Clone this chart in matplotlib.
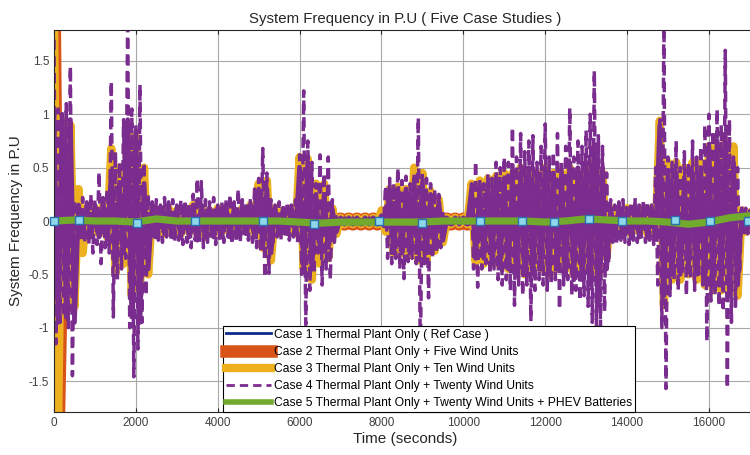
import numpy as np
import matplotlib
matplotlib.use("Agg")
import matplotlib.pyplot as plt
from matplotlib.lines import Line2D

plt.rcParams['font.family'] = ['Liberation Sans', 'DejaVu Sans']

# ---- data ----
# case 4 (twenty wind units): local max / min in every 100 s bin, t = 0 .. 17000
c4_step = 100
c4_hi = [
    1.70, 1.05, 1.00, 1.10, 1.45, 0.20, 0.15, 0.22, 0.18, 0.25,
    0.20, 0.46, 0.22, 0.30, 1.31, 0.65, 0.55, 0.95, 1.90, 1.05,
    0.90, 1.28, 0.55, 0.25, 0.18, 0.20, 0.15, 0.22, 0.18, 0.20,
    0.15, 0.20, 0.18, 0.15, 0.25, 0.40, 0.37, 0.20, 0.18, 0.22,
    0.15, 0.18, 0.20, 0.25, 0.18, 0.30, 0.20, 0.18, 0.22, 0.30,
    0.40, 0.68, 0.45, 0.20, 0.15, 0.18, 0.15, 0.18, 0.15, 0.20,
    0.62, 1.22, 0.75, 0.55, 0.35, 0.62, 0.45, 0.60, 0.20, 0.04,
    0.03, 0.03, 0.03, 0.03, 0.03, 0.03, 0.03, 0.03, 0.03, 0.03,
    0.05, 0.33, 0.40, 0.35, 0.50, 0.38, 0.42, 0.35, 0.45, 0.97,
    0.45, 0.40, 0.35, 0.30, 0.25, 0.10, 0.03, 0.03, 0.03, 0.03,
    0.03, 0.05, 0.35, 0.56, 0.40, 0.35, 0.45, 0.40, 0.55, 0.50,
    0.60, 0.55, 0.88, 0.60, 0.82, 0.65, 0.75, 0.80, 0.55, 0.70,
    0.91, 0.60, 0.65, 0.82, 0.55, 0.70, 1.06, 0.60, 0.75, 0.70,
    0.85, 1.00, 1.41, 0.80, 0.70, 0.45, 0.20, 0.15, 0.18, 0.20,
    0.15, 0.18, 0.22, 0.15, 0.20, 0.18, 0.15, 0.50, 0.95, 1.90,
    0.60, 0.55, 0.75, 0.50, 0.65, 0.55, 0.75, 0.60, 0.70, 0.90,
    1.00, 0.85, 1.05, 0.90, 1.60, 0.95, 0.60, 0.50, 0.15, 0.12,
    0.10]
c4_lo = [
    -1.15, -0.95, -0.90, -1.00, -1.45, -0.35, -0.18, -0.20, -0.22, -0.30,
    -0.22, -0.40, -0.25, -0.30, -0.90, -0.55, -0.45, -0.35, -1.00, -1.46,
    -1.20, -0.95, -0.70, -0.20, -0.15, -0.18, -0.20, -0.15, -0.18, -0.20,
    -0.18, -0.22, -0.20, -0.25, -0.18, -0.22, -0.25, -0.20, -0.18, -0.22,
    -0.18, -0.20, -0.15, -0.22, -0.18, -0.20, -0.15, -0.18, -0.20, -0.25,
    -0.30, -0.53, -0.49, -0.20, -0.15, -0.18, -0.15, -0.18, -0.15, -0.20,
    -0.50, -0.97, -0.65, -0.50, -0.30, -0.60, -0.45, -0.55, -0.20, -0.04,
    -0.03, -0.03, -0.03, -0.03, -0.03, -0.03, -0.03, -0.03, -0.03, -0.03,
    -0.05, -0.35, -0.40, -0.35, -0.45, -0.54, -0.38, -0.35, -0.40, -1.30,
    -0.40, -0.72, -0.35, -0.30, -0.25, -0.10, -0.03, -0.03, -0.03, -0.03,
    -0.03, -0.05, -0.45, -0.62, -0.45, -0.40, -0.50, -0.45, -0.55, -0.60,
    -0.55, -0.65, -0.79, -0.60, -0.70, -0.60, -0.94, -0.65, -0.55, -0.60,
    -0.65, -0.60, -0.55, -0.83, -0.60, -0.55, -0.70, -0.65, -0.75, -0.70,
    -0.80, -0.95, -1.00, -1.00, -0.85, -0.40, -0.20, -0.22, -0.18, -0.20,
    -0.22, -0.18, -0.20, -0.15, -0.20, -0.18, -0.22, -0.60, -1.00, -1.57,
    -0.70, -0.55, -0.65, -0.50, -0.70, -0.55, -0.65, -0.50, -0.60, -1.13,
    -0.75, -0.70, -0.80, -0.85, -1.57, -0.95, -0.80, -0.50, -0.15, -0.12,
    -0.10]

# case 4 dense core (where the trace is solid): max / min per 200 s bin
core_step = 200
core_hi = [
    1.00, 1.00, 0.95, 0.15, 0.15,
    0.15, 0.18, 0.45, 0.35, 0.95,
    0.85, 0.35, 0.15, 0.12, 0.15,
    0.12, 0.15, 0.15, 0.15, 0.12,
    0.12, 0.15, 0.12, 0.15, 0.15,
    0.30, 0.30, 0.12, 0.12, 0.12,
    0.50, 0.55, 0.25, 0.25, 0.10,
    0.03, 0.03, 0.03, 0.03, 0.03,
    0.05, 0.30, 0.30, 0.30, 0.35,
    0.35, 0.25, 0.18, 0.03, 0.03,
    0.03, 0.30, 0.30, 0.35, 0.40,
    0.40, 0.45, 0.45, 0.50, 0.45,
    0.50, 0.45, 0.45, 0.55, 0.50,
    0.55, 0.70, 0.50, 0.12, 0.12,
    0.12, 0.12, 0.12, 0.12, 0.90,
    0.45, 0.45, 0.40, 0.45, 0.50,
    0.70, 0.75, 0.80, 0.55, 0.10,
    0.08]
core_lo = [
    -0.95, -0.90, -0.95, -0.15, -0.15,
    -0.15, -0.18, -0.40, -0.30, -0.90,
    -0.95, -0.45, -0.15, -0.12, -0.15,
    -0.15, -0.15, -0.18, -0.15, -0.15,
    -0.15, -0.15, -0.15, -0.12, -0.15,
    -0.25, -0.30, -0.12, -0.12, -0.12,
    -0.45, -0.45, -0.25, -0.25, -0.10,
    -0.03, -0.03, -0.03, -0.03, -0.03,
    -0.05, -0.30, -0.30, -0.30, -0.30,
    -0.30, -0.25, -0.18, -0.03, -0.03,
    -0.03, -0.35, -0.35, -0.40, -0.40,
    -0.45, -0.45, -0.50, -0.50, -0.45,
    -0.50, -0.45, -0.50, -0.55, -0.55,
    -0.60, -0.80, -0.45, -0.15, -0.15,
    -0.15, -0.15, -0.15, -0.15, -0.70,
    -0.50, -0.50, -0.45, -0.50, -0.55,
    -0.60, -0.60, -0.65, -0.60, -0.10,
    -0.08]

# case 3 (ten wind units): max / min per 200 s bin
c3_step = 200
c3_hi = [
    1.90, 0.95, 0.90, 0.30, 0.12,
    0.12, 0.15, 0.68, 0.50, 0.85,
    0.80, 0.50, 0.12, 0.10, 0.12,
    0.10, 0.12, 0.15, 0.12, 0.10,
    0.12, 0.12, 0.10, 0.12, 0.15,
    0.35, 0.38, 0.12, 0.10, 0.12,
    0.60, 0.58, 0.35, 0.35, 0.12,
    0.03, 0.03, 0.03, 0.03, 0.03,
    0.10, 0.30, 0.32, 0.30, 0.50,
    0.45, 0.28, 0.20, 0.03, 0.03,
    0.03, 0.35, 0.38, 0.40, 0.42,
    0.45, 0.45, 0.50, 0.45, 0.45,
    0.50, 0.45, 0.45, 0.50, 0.45,
    0.50, 0.55, 0.45, 0.12, 0.10,
    0.12, 0.10, 0.12, 0.12, 0.94,
    0.55, 0.55, 0.50, 0.55, 0.55,
    0.70, 0.70, 0.75, 0.70, 0.10,
    0.08]
c3_lo = [
    -1.90, -0.85, -0.80, -0.30, -0.12,
    -0.12, -0.15, -0.49, -0.40, -0.70,
    -0.65, -0.50, -0.12, -0.12, -0.10,
    -0.12, -0.10, -0.12, -0.15, -0.12,
    -0.10, -0.12, -0.12, -0.10, -0.12,
    -0.25, -0.37, -0.12, -0.10, -0.12,
    -0.45, -0.55, -0.40, -0.35, -0.12,
    -0.03, -0.03, -0.03, -0.03, -0.03,
    -0.10, -0.30, -0.30, -0.32, -0.37,
    -0.37, -0.28, -0.20, -0.03, -0.03,
    -0.03, -0.38, -0.40, -0.40, -0.42,
    -0.45, -0.45, -0.50, -0.45, -0.45,
    -0.50, -0.45, -0.45, -0.50, -0.45,
    -0.45, -0.50, -0.34, -0.12, -0.12,
    -0.12, -0.10, -0.12, -0.12, -0.79,
    -0.55, -0.55, -0.50, -0.55, -0.60,
    -0.65, -0.65, -0.65, -0.70, -0.10,
    -0.08]

# case 2 (five wind units): max / min per 200 s bin
c2_step = 200
c2_hi = [1.90] + [0.015] * 85
c2_lo = [-1.90] + [-0.025] * 85

# case 5 (PHEV batteries): value every 500 s
c5_step = 500
c5_val = [0.00, 0.01, 0.00, 0.00, -0.01, 0.02,
          0.00, 0.00, 0.00, 0.00, 0.00, 0.00,
          -0.01, -0.02, -0.01, -0.01, -0.01, -0.01,
          -0.01, 0.00, 0.00, 0.00, 0.00, 0.00,
          -0.01, 0.00, 0.02, 0.01, 0.00, 0.00,
          -0.01, -0.03, -0.01, 0.03, 0.05]

# square markers on the reference trace
mk_t = [0, 610, 2030, 3450, 5110, 6350, 7940, 8990, 10410, 11440,
        12220, 13070, 13880, 15180, 16030, 16960]
mk_v = [0.00, 0.01, -0.02, 0.00, 0.00, -0.03, 0.00, -0.02, 0.00, 0.00,
        -0.01, 0.02, 0.00, 0.01, 0.00, 0.00]

x_ticks = [0, 2000, 4000, 6000, 8000, 10000, 12000, 14000, 16000]
y_ticks = [-1.5, -1, -0.5, 0, 0.5, 1, 1.5]
y_labels = ['-1.5', '-1', '-0.5', '0', '0.5', '1', '1.5']

labels = ['Case 1 Thermal Plant Only ( Ref Case )',
          'Case 2 Thermal Plant Only + Five Wind Units',
          'Case 3 Thermal Plant Only + Ten Wind Units',
          'Case 4 Thermal Plant Only + Twenty Wind Units',
          'Case 5 Thermal Plant Only + Twenty Wind Units + PHEV Batteries']


def zigzag(step, hi, lo):
    """alternate between bin max and bin min"""
    xs, ys = [], []
    for i, (h, l) in enumerate(zip(hi, lo)):
        xs += [i * step, i * step + step / 2]
        ys += [h, l]
    return xs, ys


fig = plt.figure(figsize=(7.5, 4.55), dpi=100)
ax = fig.add_axes([0.072, 0.0945, 0.936, 0.8395])

c_blue = '#0b2a8c'
c_orange = '#d95319'
c_yellow = '#edb120'
c_purple = '#7b2d8f'
c_green = '#72aa2e'
dash = (0, (3, 1.8))

t5 = [i * c5_step for i in range(len(c5_val))]
ax.plot(t5, [0] * len(t5), color=c_blue, lw=1.5)

x2, y2 = zigzag(c2_step, c2_hi, c2_lo)
ax.plot(x2, y2, color=c_orange, lw=10)

x3, y3 = zigzag(c3_step, c3_hi, c3_lo)
ax.plot(x3, y3, color=c_yellow, lw=6)

xc, yc = zigzag(core_step, core_hi, core_lo)
ax.plot(xc, yc, color=c_purple, lw=3.4)
x4, y4 = zigzag(c4_step, c4_hi, c4_lo)
ax.plot(x4, y4, color=c_purple, lw=2.5, linestyle=dash)

ax.plot(t5, c5_val, color=c_green, lw=5.2)
ax.plot(mk_t, mk_v, linestyle='none', marker='s', markersize=5.5,
        markerfacecolor='#8fd8ea', markeredgecolor='#2a6fb0',
        markeredgewidth=1, clip_on=False, zorder=5)

ax.set_xlim(0, 17150)
ax.set_ylim(-1.79, 1.79)
ax.set_xticks(x_ticks)
ax.set_xticklabels([str(v) for v in x_ticks])
ax.set_yticks(y_ticks)
ax.set_yticklabels(y_labels)
ax.tick_params(direction='in', length=3, labelsize=8.5, colors='#262626',
               labelcolor='#404040', top=True, right=True)
ax.grid(True, color='#a8a8a8', lw=0.8)
ax.set_axisbelow(True)
for s in ax.spines.values():
    s.set_color('#262626')
    s.set_linewidth(0.8)

ax.set_title('System Frequency in P.U ( Five Case Studies )', fontsize=10.8,
             color='#262626', pad=5)
ax.set_xlabel('Time (seconds)', fontsize=11, color='#262626', labelpad=2)
ax.set_ylabel('System Frequency in P.U', fontsize=11, color='#262626', labelpad=4)

handles = [Line2D([], [], color=c_blue, lw=2),
           Line2D([], [], color=c_orange, lw=9),
           Line2D([], [], color=c_yellow, lw=6),
           Line2D([], [], color=c_purple, lw=2, linestyle=dash),
           Line2D([], [], color=c_green, lw=4)]
leg = ax.legend(handles, labels, loc='lower left',
                bbox_to_anchor=(223 / 750, 1 - 412 / 455),
                bbox_transform=fig.transFigure, fontsize=8.7,
                handlelength=3.7, handletextpad=0.25, labelspacing=0.42,
                borderpad=0.25, borderaxespad=0, fancybox=False,
                framealpha=1, edgecolor='#000000')
leg.get_frame().set_linewidth(0.8)

fig.savefig('out.png', dpi=100)
